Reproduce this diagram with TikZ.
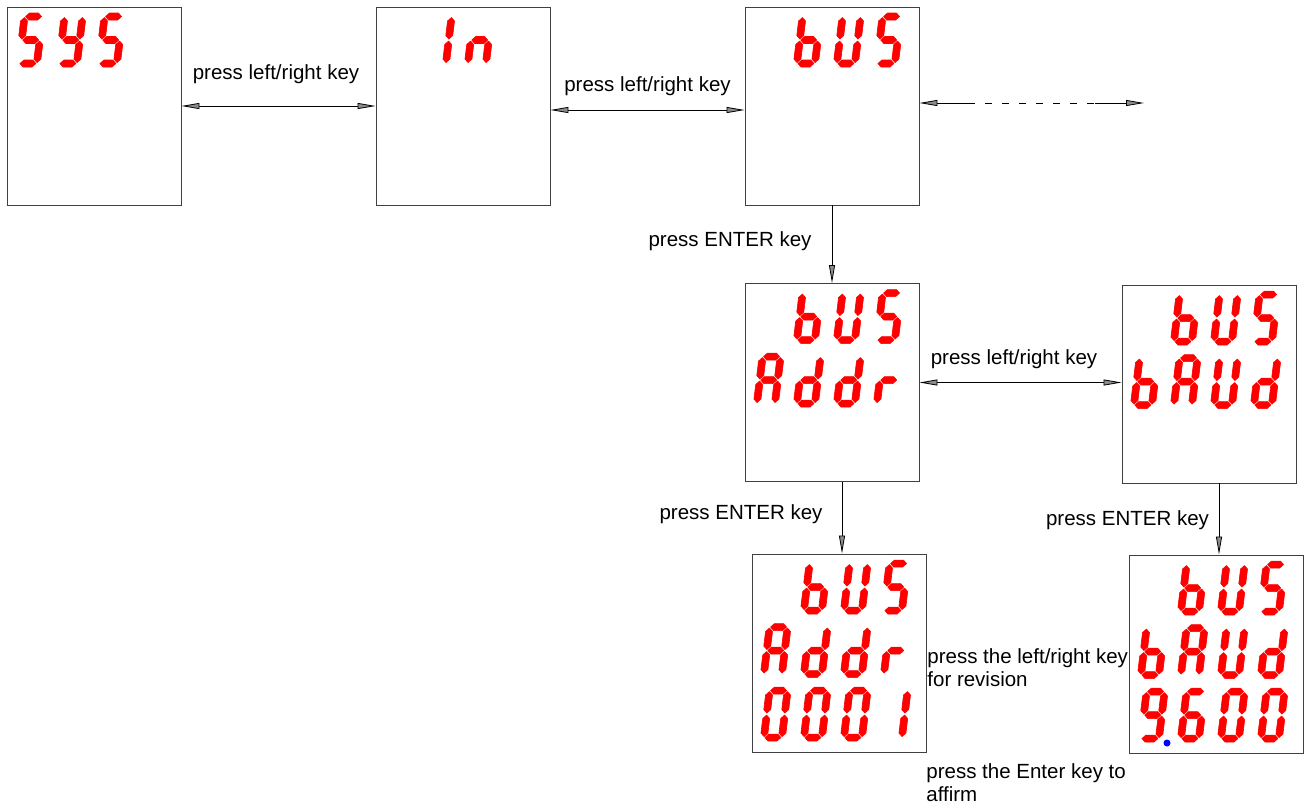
\documentclass[tikz,border=0pt]{standalone}
\usepackage{fontspec}
\setmainfont{Liberation Sans}
\usetikzlibrary{arrows.meta}
\tikzset{>={Triangle[length=18pt,width=6pt,fill=black!45]}}
\tikzset{
lcdbox/.style={draw=black!75, line width=0.9pt, minimum width=174pt, minimum height=198pt, inner sep=0pt},
keytext/.style={inner sep=0pt, font=\fontsize{20.5}{23}\selectfont},
seg/.style={fill=red, draw=red, line width=0.6pt, line join=round},
hseg/.style n args={3}{insert path={(#1,#3) -- (#1+3.5,#3-3.5) -- (#2-3.5,#3-3.5) -- (#2,#3) -- (#2-3.5,#3+3.5) -- (#1+3.5,#3+3.5) -- cycle}},
vseg/.style n args={3}{insert path={(#1,#2) -- (#1+3.5,#2+3.5) -- (#1+3.5,#3-3.5) -- (#1,#3) -- (#1-3.5,#3-3.5) -- (#1-3.5,#2+3.5) -- cycle}},
seg a/.style={hseg={1}{17}{0}},
seg b/.style={vseg={18}{1}{22.5}},
seg c/.style={vseg={18}{24.5}{46}},
seg d/.style={hseg={1}{17}{47}},
seg e/.style={vseg={0}{24.5}{46}},
seg f/.style={vseg={0}{1}{22.5}},
seg g/.style={hseg={1}{17}{23.5}},
glyph S/.style={seg a, seg f, seg g, seg c, seg d},
glyph Y/.style={seg f, seg b, seg g, seg c, seg d},
glyph I/.style={seg b, seg c},
glyph n/.style={seg e, seg g, seg c},
glyph b/.style={seg f, seg e, seg g, seg c, seg d},
glyph U/.style={seg f, seg e, seg d, seg c, seg b},
glyph A/.style={seg a, seg b, seg c, seg e, seg f, seg g},
glyph d/.style={seg b, seg c, seg d, seg e, seg g},
glyph r/.style={seg e, seg g},
glyph 0/.style={seg a, seg b, seg c, seg d, seg e, seg f},
glyph 1/.style={seg b, seg c},
glyph 6/.style={seg a, seg f, seg g, seg e, seg d, seg c},
glyph 9/.style={seg a, seg b, seg c, seg d, seg f, seg g},
}
\newcommand{\lcdword}[4]{%
  \foreach \ch [count=\k from #3] in {#4}
    \path [shift={(#1.north west)}, shift={(18+40*\k, 10+63.5*#2)}, xslant=0.12, seg, glyph \ch];}

\begin{document}
\begin{tikzpicture}[x=1pt, y=-1pt, line width=0.8pt]
			\useasboundingbox (0, 0) rectangle (1308, 808);
			\node [lcdbox] (1) at (94, 106) {};
			\node [lcdbox] (2) at (463, 106) {};
			\node [lcdbox] (3) at (832, 106) {};
			\node [lcdbox] (4) at (832, 382.5) {};
			\node [lcdbox] (5) at (1209, 384) {};
			\node [lcdbox] (6) at (839, 653) {};
			\node [lcdbox] (7) at (1216, 654) {};
			\lcdword{1}{0}{0}{S,Y,S}
			\lcdword{2}{0}{1}{I,n}
			\lcdword{3}{0}{1}{b,U,S}
			\lcdword{4}{0}{1}{b,U,S}
			\lcdword{4}{1}{0}{A,d,d,r}
			\lcdword{5}{0}{1}{b,U,S}
			\lcdword{5}{1}{0}{b,A,U,d}
			\lcdword{6}{0}{1}{b,U,S}
			\lcdword{6}{1}{0}{A,d,d,r}
			\lcdword{6}{2}{0}{0,0,0,1}
			\lcdword{7}{0}{1}{b,U,S}
			\lcdword{7}{1}{0}{b,A,U,d}
			\lcdword{7}{2}{0}{9,6,0,0}
			\fill [blue] (1167, 743) circle (3.5pt);
			\coordinate (8) at (968, 103);
			\coordinate (9) at (1095, 103);
			\coordinate (10) at (1144, 103);
			\draw [<->] (1.east) to (2.west);
			\draw [<->] ([yshift=-4pt]2.east) to ([yshift=-4pt]3.west);
			\draw [<-] ([yshift=3pt]3.east) to (8);
			\draw [dash pattern=on 7pt off 10pt] (8) to (9);
			\draw [->] (9) to (10);
			\draw [->] (3.south) to (4.north);
			\draw [<->] (4.east) to (4.east -| 5.west);
			\draw [->] ([xshift=10pt]4.south) to ([xshift=10pt]4.south |- 6.north);
			\draw [->] ([xshift=10pt]5.south) to ([xshift=10pt]5.south |- 7.north);
			\node [keytext] (11) at (276, 74) {press left/right key};
			\node [keytext] (12) at (647.5, 86.5) {press left/right key};
			\node [keytext] (13) at (730, 241) {press ENTER key};
			\node [keytext] (14) at (1014, 359) {press left/right key};
			\node [keytext] (15) at (741, 514) {press ENTER key};
			\node [keytext] (16) at (1127.5, 520) {press ENTER key};
			\node [keytext, align=left, anchor=north west] (17) at (927, 648) {press the left/right key\\for revision};
			\node [keytext, align=left, anchor=north west] (18) at (926, 763) {press the Enter key to\\affirm};
		\end{tikzpicture}
\end{document}
